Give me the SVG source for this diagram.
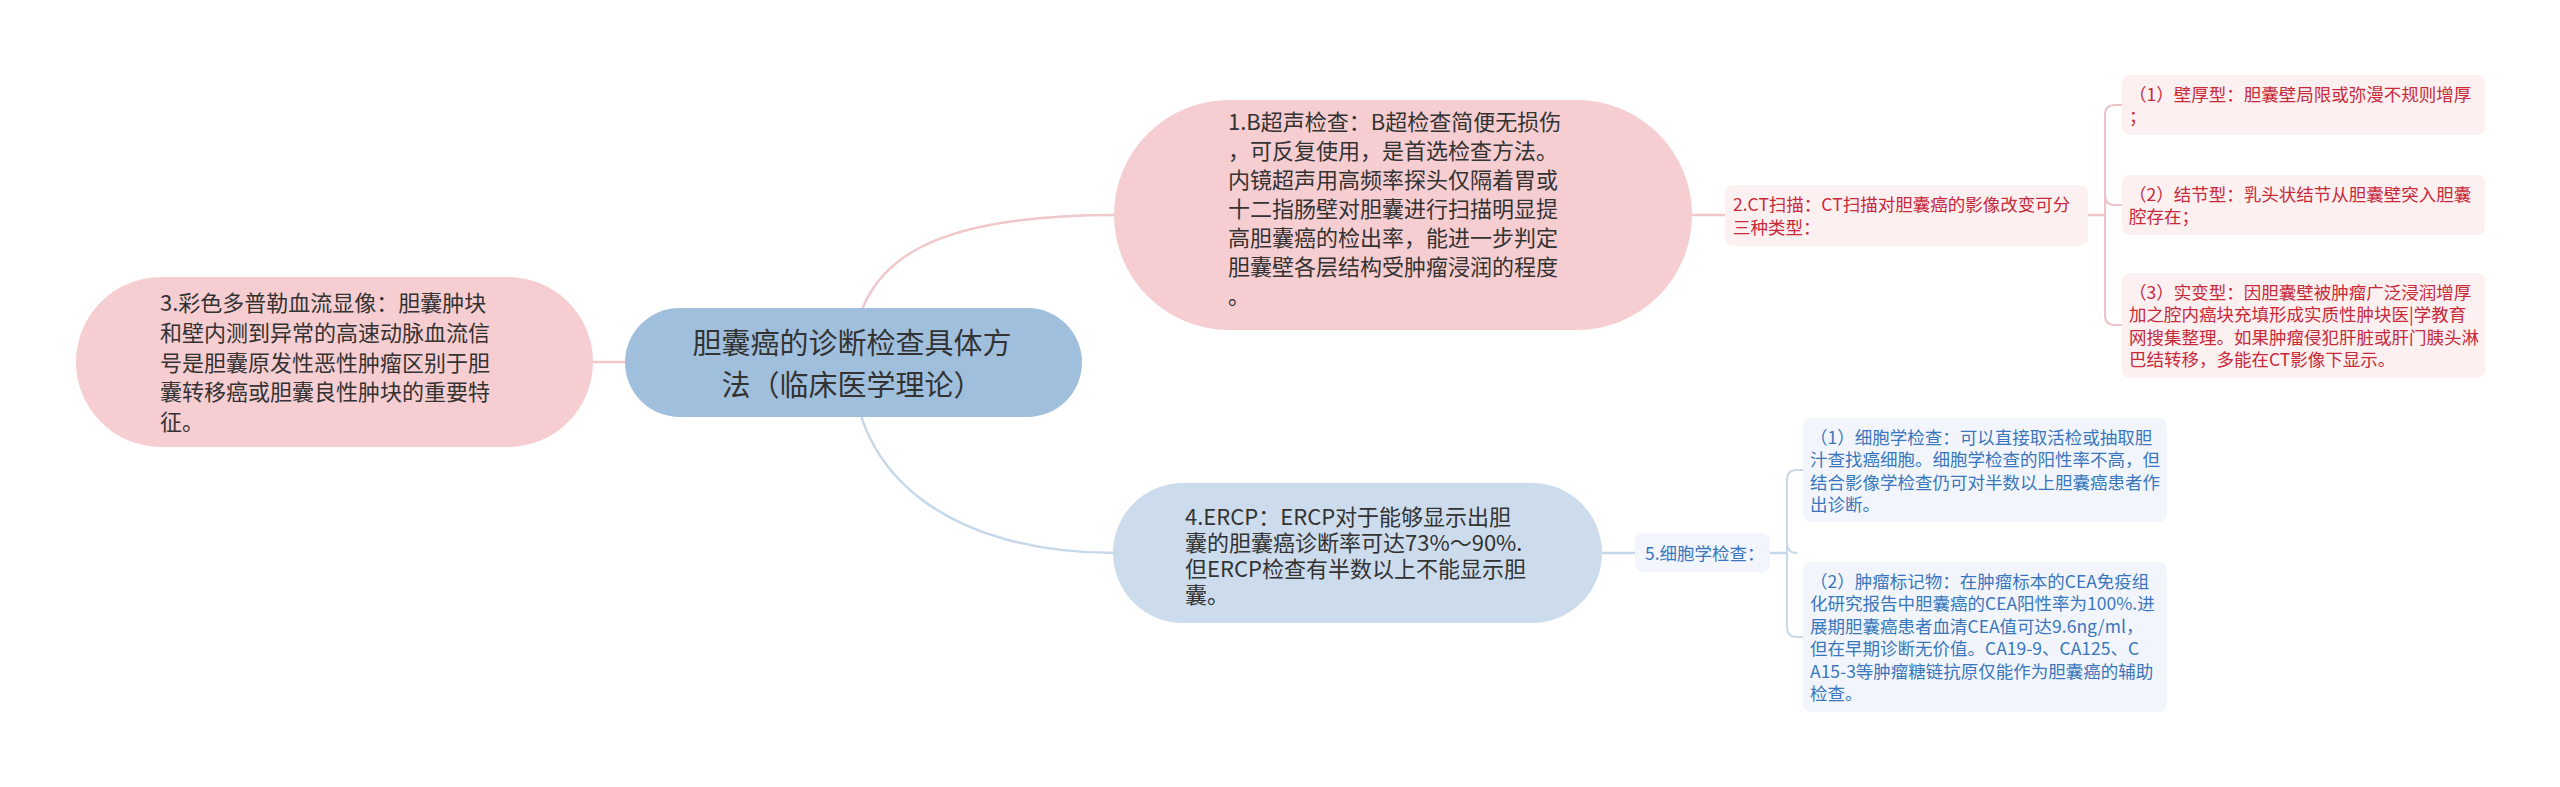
<svg xmlns="http://www.w3.org/2000/svg" width="2560" height="787" viewBox="0 0 2560 787">
<style>
text{font-family:"Noto Sans CJK SC","Noto Sans",sans-serif;}
.big{font-size:22px;fill:#333333;}
.root{font-size:29px;fill:#333333;}
.sm{font-size:17.5px;}
.red{fill:#c82a3a;}
.blu{fill:#3a76bd;}
.pk{fill:none;stroke:#f0c7ca;stroke-width:2.5;}
.pkb{fill:none;stroke:#ebc4c7;stroke-width:2;}
.bl{fill:none;stroke:#c7d8ea;stroke-width:2.5;}
.blb{fill:none;stroke:#c8d7e9;stroke-width:2;}
.pinkbox{fill:#fcf0f1;}
.bluebox{fill:#f2f6fc;}
</style>
<rect width="2560" height="787" fill="#ffffff"/>
<g id="connectors">
<path class="pk" d="M 853 362 H 593"/>
<path class="pk" d="M 853 362 C 853 250, 950 215, 1115 215"/>
<path class="bl" d="M 853 362 C 853 475, 950 553, 1115 553"/>
<path class="pk" d="M 1690 215 H 1725"/>
<path class="pk" d="M 2088 215 H 2105"/>
<path class="pkb" d="M 2122 105 H 2115 Q 2105 105 2105 115 V 315 Q 2105 325 2115 325 H 2122"/>
<path class="pkb" d="M 2105 195 Q 2105 205 2115 205 H 2122"/>
<path class="bl" d="M 1600 553 H 1635"/>
<path class="bl" d="M 1770 553 H 1787"/>
<path class="blb" d="M 1803 470 H 1797 Q 1787 470 1787 480 V 627 Q 1787 637 1797 637 H 1803"/>
<path class="blb" d="M 1787 543 Q 1787 553 1797 553"/>
</g>
<g id="node-root">
<rect x="625" y="308" width="457" height="109" rx="54.5" fill="#a0bfdc"/>
<text class="root" text-anchor="middle"><tspan x="852" y="354">胆囊癌的诊断检查具体方</tspan><tspan x="852" y="396">法（临床医学理论）</tspan></text>
</g>
<g id="node-3">
<rect x="76" y="277" width="517" height="170" rx="85" fill="#f6cdd0"/>
<text class="big"><tspan x="160" y="311">3.彩色多普勒血流显像：胆囊肿块</tspan><tspan x="160" y="341">和壁内测到异常的高速动脉血流信</tspan><tspan x="160" y="371">号是胆囊原发性恶性肿瘤区别于胆</tspan><tspan x="160" y="400">囊转移癌或胆囊良性肿块的重要特</tspan><tspan x="160" y="430">征。</tspan></text>
</g>
<g id="node-1">
<rect x="1114" y="100" width="578" height="230" rx="115" fill="#f6cdd0"/>
<text class="big"><tspan x="1228" y="130">1.B超声检查：B超检查简便无损伤</tspan><tspan x="1228" y="159">，可反复使用，是首选检查方法。</tspan><tspan x="1228" y="188">内镜超声用高频率探头仅隔着胃或</tspan><tspan x="1228" y="217">十二指肠壁对胆囊进行扫描明显提</tspan><tspan x="1228" y="246">高胆囊癌的检出率，能进一步判定</tspan><tspan x="1228" y="275">胆囊壁各层结构受肿瘤浸润的程度</tspan><tspan x="1228" y="304">。</tspan></text>
</g>
<g id="node-4">
<rect x="1113" y="483" width="489" height="140" rx="70" fill="#ccdcec"/>
<text class="big"><tspan x="1185" y="525">4.ERCP：ERCP对于能够显示出胆</tspan><tspan x="1185" y="551">囊的胆囊癌诊断率可达73%～90%.</tspan><tspan x="1185" y="577">但ERCP检查有半数以上不能显示胆</tspan><tspan x="1185" y="603">囊。</tspan></text>
</g>
<g id="node-ct">
<rect class="pinkbox" x="1725" y="185" width="363" height="61" rx="8"/>
<text class="sm red"><tspan x="1733" y="211">2.CT扫描：CT扫描对胆囊癌的影像改变可分</tspan><tspan x="1733" y="233.5">三种类型：</tspan></text>
</g>
<g id="node-ct-1">
<rect class="pinkbox" x="2122" y="75" width="363" height="60" rx="8"/>
<text class="sm red"><tspan x="2129" y="100.5">（1）壁厚型：胆囊壁局限或弥漫不规则增厚</tspan><tspan x="2129" y="123">；</tspan></text>
</g>
<g id="node-ct-2">
<rect class="pinkbox" x="2122" y="175" width="363" height="60" rx="8"/>
<text class="sm red"><tspan x="2129" y="200.5">（2）结节型：乳头状结节从胆囊壁突入胆囊</tspan><tspan x="2129" y="223">腔存在；</tspan></text>
</g>
<g id="node-ct-3">
<rect class="pinkbox" x="2122" y="273" width="363" height="105" rx="8"/>
<text class="sm red"><tspan x="2129" y="298.5">（3）实变型：因胆囊壁被肿瘤广泛浸润增厚</tspan><tspan x="2129" y="321">加之腔内癌块充填形成实质性肿块医|学教育</tspan><tspan x="2129" y="343.5">网搜集整理。如果肿瘤侵犯肝脏或肝门胰头淋</tspan><tspan x="2129" y="366">巴结转移，多能在CT影像下显示。</tspan></text>
</g>
<g id="node-cyto">
<rect class="bluebox" x="1635" y="533" width="135" height="39" rx="8"/>
<text class="sm blu" x="1645" y="559.5">5.细胞学检查：</text>
</g>
<g id="node-cyto-1">
<rect class="bluebox" x="1803" y="418" width="364" height="104" rx="8"/>
<text class="sm blu"><tspan x="1810" y="443.5">（1）细胞学检查：可以直接取活检或抽取胆</tspan><tspan x="1810" y="466">汁查找癌细胞。细胞学检查的阳性率不高，但</tspan><tspan x="1810" y="488.5">结合影像学检查仍可对半数以上胆囊癌患者作</tspan><tspan x="1810" y="511">出诊断。</tspan></text>
</g>
<g id="node-cyto-2">
<rect class="bluebox" x="1803" y="562" width="364" height="150" rx="8"/>
<text class="sm blu"><tspan x="1810" y="587.5">（2）肿瘤标记物：在肿瘤标本的CEA免疫组</tspan><tspan x="1810" y="610">化研究报告中胆囊癌的CEA阳性率为100%.进</tspan><tspan x="1810" y="632.5">展期胆囊癌患者血清CEA值可达9.6ng/ml，</tspan><tspan x="1810" y="655">但在早期诊断无价值。CA19-9、CA125、C</tspan><tspan x="1810" y="677.5">A15-3等肿瘤糖链抗原仅能作为胆囊癌的辅助</tspan><tspan x="1810" y="700">检查。</tspan></text>
</g>
</svg>
